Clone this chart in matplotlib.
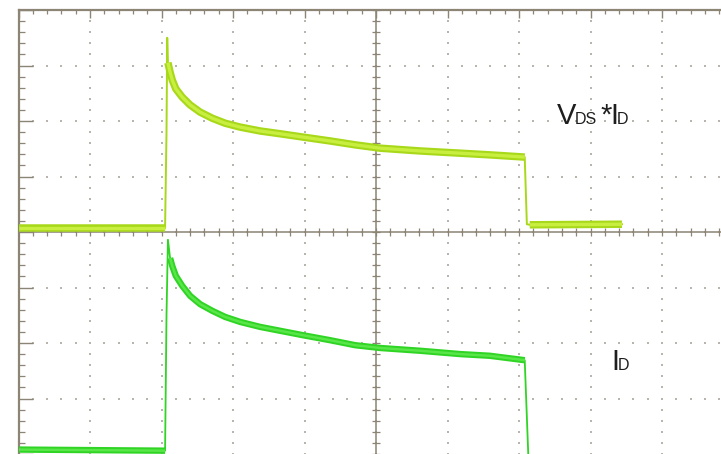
import matplotlib

matplotlib.use("Agg")
import matplotlib.pyplot as plt
import numpy as np

# scope trace readings, x in divisions (0-10), y in divisions (-4..4)
upper_t = [0.0, 2.05, 2.07, 2.08, 2.09, 2.12, 2.15, 2.20, 2.29, 2.40, 2.54, 2.71, 2.89, 3.10, 3.38,
           3.66, 3.98, 4.36, 4.71, 5.06, 5.62, 6.18, 6.59, 7.08, 7.11, 7.15, 8.44]
upper_v = [0.07, 0.07, 1.80, 3.50, 3.05, 2.88, 2.74, 2.58, 2.43, 2.29, 2.16, 2.05, 1.96, 1.89, 1.82,
           1.77, 1.71, 1.64, 1.57, 1.51, 1.46, 1.42, 1.39, 1.35, 0.14, 0.13, 0.14]

lower_t = [0.0, 2.05, 2.07, 2.09, 2.12, 2.15, 2.20, 2.29, 2.40, 2.54, 2.71, 2.89, 3.10, 3.38,
           3.66, 3.98, 4.36, 4.71, 5.06, 5.62, 6.18, 6.59, 7.08, 7.13, 7.16, 9.90]
lower_v = [-3.92, -3.94, -1.50, -0.14, -0.47, -0.61, -0.79, -0.97, -1.15, -1.30, -1.42, -1.53, -1.62, -1.71,
           -1.78, -1.86, -1.95, -2.04, -2.09, -2.14, -2.20, -2.23, -2.31, -4.02, -4.05, -4.05]

# index ranges of the noisy (thick) parts of each trace
upper_flat = [(0, 2), (4, 24), (25, 27)]
lower_flat = [(0, 2), (4, 23)]

W, H = 721, 454
FRAME = "#8c8474"
GRID = "#b8b4ae"
UPPER = "#a8d81a"
UPPER_HI = "#c8ee40"
LOWER = "#30d424"
LOWER_HI = "#58e648"

fig = plt.figure(figsize=(W / 100, H / 100), dpi=100)
fig.patch.set_facecolor("white")
left, top = 18.5, 10.0
ax = fig.add_axes([left / W, 0.0, 715 / W, 444 / H])
ax.set_xlim(0, 10)
ax.set_ylim(-4, 4)
ax.set_facecolor("white")

# dotted graticule
for xg in range(1, 10):
    ys = np.arange(-4, 4.01, 0.2)
    ax.scatter(np.full_like(ys, xg), ys, s=1.6, marker="s", color=GRID, lw=0, zorder=1)
for yg in range(-3, 4):
    xs = np.arange(0, 10.01, 0.2)
    ax.scatter(xs, np.full_like(xs, yg), s=1.6, marker="s", color=GRID, lw=0, zorder=1)

# centre cross with minor ticks
ax.axhline(0, color=FRAME, lw=1.1, zorder=2)
ax.axvline(5, color=FRAME, lw=1.1, zorder=2)
xt = np.arange(0.2, 10, 0.2)
ax.plot(xt, np.zeros_like(xt), ls="none", marker="|", ms=6, mew=0.9, color=FRAME, zorder=2)
yt = np.arange(-4, 4.01, 0.2)
ax.plot(np.full_like(yt, 5), yt, ls="none", marker="_", ms=6, mew=0.9, color=FRAME, zorder=2)

# traces: thin edges everywhere, thick noisy band on the flat / decaying parts
ax.plot(upper_t, upper_v, color=UPPER, lw=1.4, zorder=4)
for a, b in upper_flat:
    ax.plot(upper_t[a:b], upper_v[a:b], color=UPPER, lw=5.4, solid_capstyle="butt",
            solid_joinstyle="round", zorder=4)
    ax.plot(upper_t[a:b], upper_v[a:b], color=UPPER_HI, lw=2.4, solid_capstyle="butt",
            solid_joinstyle="round", zorder=5)
ax.plot(lower_t, lower_v, color=LOWER, lw=1.3, zorder=4)
for a, b in lower_flat:
    ax.plot(lower_t[a:b], lower_v[a:b], color=LOWER, lw=4.6, solid_capstyle="butt",
            solid_joinstyle="round", zorder=4)
    ax.plot(lower_t[a:b], lower_v[a:b], color=LOWER_HI, lw=1.8, solid_capstyle="butt",
            solid_joinstyle="round", zorder=5)

# frame: only left and top edges are inside the picture
for side in ["bottom", "right"]:
    ax.spines[side].set_visible(False)
for side in ["left", "top"]:
    ax.spines[side].set_color(FRAME)
    ax.spines[side].set_linewidth(1.6)
ax.xaxis.set_ticks_position("top")
ax.yaxis.set_ticks_position("left")
ax.set_xticks(np.arange(0, 11, 1))
ax.set_xticks(np.arange(0, 10.01, 0.2), minor=True)
ax.set_yticks(np.arange(-4, 5, 1))
ax.set_yticks(np.arange(-4, 4.01, 0.2), minor=True)
ax.tick_params(axis="x", which="major", direction="in", length=6, width=1.0, color=FRAME, labeltop=False, labelbottom=False)
ax.tick_params(axis="x", which="minor", direction="in", length=3.2, width=0.9, color=FRAME)
ax.tick_params(axis="y", which="major", direction="in", length=10, width=1.0, color=FRAME, labelleft=False)
ax.tick_params(axis="y", which="minor", direction="in", length=4.5, width=0.9, color=FRAME)


def put(text, px, py, size):
    fig.text(px / W, 1 - py / H, text, fontsize=size, family="Liberation Sans",
             color="#1e1e1e", ha="left", va="baseline")


put("V", 557, 124, 21)
put("DS", 575, 124, 11.5)
put("*", 600, 124, 21)
put("I", 610, 124, 21)
put("D", 617, 124, 11.5)

put("I", 611, 370, 21)
put("D", 618, 370, 11.5)

fig.savefig("out.png", dpi=100, facecolor="white")
